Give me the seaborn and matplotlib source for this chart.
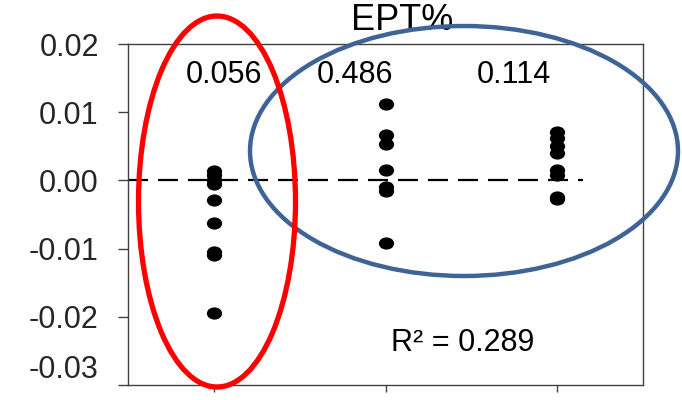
import numpy as np
import pandas as pd
import matplotlib
matplotlib.use("Agg")
import matplotlib.pyplot as plt
import seaborn as sns
from matplotlib.path import Path
from matplotlib.transforms import Affine2D
from matplotlib.patches import Ellipse

# ---- data ----
categories = ["Group 1", "Group 2", "Group 3"]
values_g1 = [0.0014, 0.0008, 0.0001, -0.0005, -0.0029, -0.0063, -0.0105, -0.0110, -0.0195]
values_g2 = [0.0112, 0.0067, 0.0054, 0.0015, -0.0010, -0.0016, -0.0092]
values_g3 = [0.0071, 0.0062, 0.0050, 0.0040, 0.0015, 0.0008, -0.0025, -0.0027]
p_labels = ["0.056", "0.486", "0.114"]
p_label_x = [0.06, 0.82, 1.75]
p_label_y = 0.0155
r2_label = "R\u00b2 = 0.289"
ytick_values = [-0.03, -0.02, -0.01, 0.00, 0.01, 0.02]
ytick_labels = ["-0.03", "-0.02", "-0.01", "0.00", "0.01", "0.02"]
title = "EPT%"

df = pd.DataFrame({
    "group": [categories[0]] * len(values_g1) + [categories[1]] * len(values_g2) + [categories[2]] * len(values_g3),
    "value": values_g1 + values_g2 + values_g3,
})

sns.set_theme(style="white")
plt.rcParams["font.family"] = ["Liberation Sans", "DejaVu Sans"]

fig = plt.figure(figsize=(6.82, 4.00), dpi=100)
ax = fig.add_axes([128 / 682, 15 / 400, (643 - 128) / 682, (385 - 44) / 400])

ellipse_marker = Path.unit_circle().transformed(Affine2D().scale(1.0, 0.8))

sns.stripplot(data=df, x="group", y="value", order=categories, jitter=False,
              color="black", marker=ellipse_marker, size=11, linewidth=0,
              ax=ax, zorder=3)

ax.set_xlim(-0.5, 2.5)
ax.set_ylim(-0.03, 0.02)
ax.set_yticks(ytick_values)
ax.set_yticklabels(ytick_labels)
ax.set_xticks(range(len(categories)))
ax.set_xticklabels([""] * len(categories))
ax.set_xlabel("")
ax.set_ylabel("")

ax.plot([-0.5, 2.15], [0, 0], color="black", lw=1.6, dashes=(9, 4.5), zorder=2)

for sp in ax.spines.values():
    sp.set_color("#404040")
    sp.set_linewidth(1.0)
    sp.set_visible(True)

ax.tick_params(axis="y", direction="out", length=7, width=1, color="#404040",
               pad=14, labelsize=22, left=True)
ax.tick_params(axis="x", direction="out", length=5, width=1, color="#404040",
               bottom=True)

# keep the lowest tick label inside the canvas
bottom_label = ax.get_yticklabels()[0]
bottom_label.set_verticalalignment("bottom")
bottom_label.set_y(-0.03)

for x, lab in zip(p_label_x, p_labels):
    ax.text(x, p_label_y, lab, ha="center", va="center", fontsize=22, color="black")

ax.text(1.45, -0.0238, r2_label, ha="center", va="center", fontsize=22, color="black")

fig.text(402 / 682, 1 - 21 / 400, title, ha="center", va="center", fontsize=26, color="black")

blue = Ellipse((464 / 682, 1 - 151 / 400), 428 / 682, 250 / 400,
               transform=fig.transFigure, fill=False, edgecolor="#3D6494",
               linewidth=3.2, zorder=10)
red = Ellipse((217 / 682, 1 - 201.5 / 400), 157 / 682, 371 / 400,
              transform=fig.transFigure, fill=False, edgecolor="#FF0000",
              linewidth=3.8, zorder=11)
fig.add_artist(blue)
fig.add_artist(red)

fig.savefig("out.png", dpi=100)
